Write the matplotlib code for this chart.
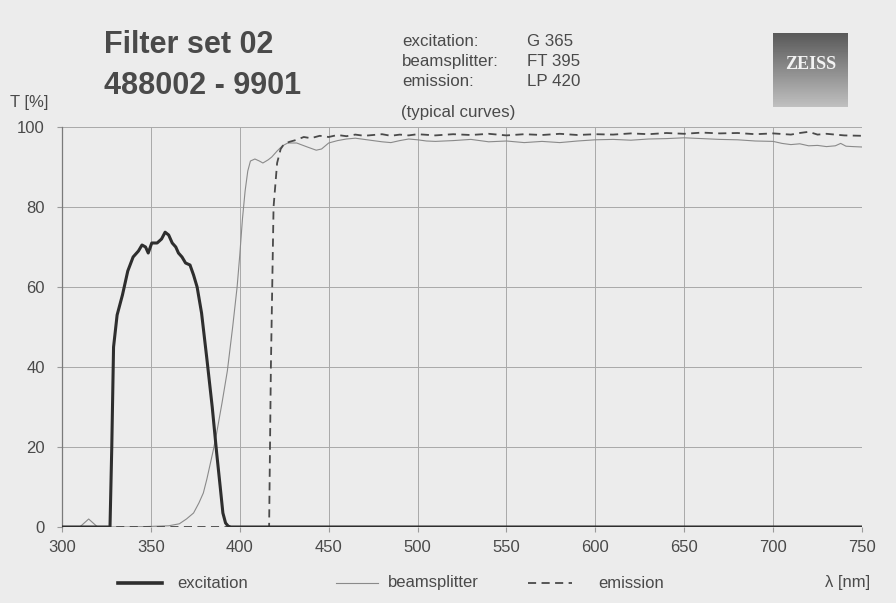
import numpy as np
import matplotlib.pyplot as plt
from matplotlib.lines import Line2D

plt.rcParams['font.family'] = ['Liberation Sans', 'DejaVu Sans']
plt.rcParams['axes.unicode_minus'] = False

# transmission curves (wavelength nm, T %)
exc_nm = [300, 327, 328, 329, 331, 334, 337, 340, 343, 345, 347, 348.5, 350.5,
          353.5, 356, 358, 360, 362, 364, 365.5, 367.5, 369.5, 372, 374, 376,
          378.5, 381.5, 384.5, 387, 389, 390.5, 392, 393.5, 395, 750]
exc_t = [0, 0, 20, 45, 53, 58, 64, 67.5, 69, 70.5, 70, 68.5, 71, 71, 72, 73.7,
         73, 71, 70, 68.5, 67.5, 66, 65.5, 63, 60, 53.5, 42, 30, 18.5, 10, 3.5,
         1, 0.2, 0, 0]

bs_nm = [300, 310, 313, 315, 317, 320, 340, 360, 366, 370, 374, 377, 379.5,
         381.5, 383, 385, 387, 390, 393, 396, 398.5, 400, 401.5, 403, 404.5, 406,
         408.5, 411, 413, 416, 418, 421, 424, 427, 432, 438, 443, 446, 450,
         455, 460, 465, 470, 475, 480, 485, 490, 495, 500, 505, 510, 520, 530,
         540, 550, 560, 570, 580, 590, 600, 610, 620, 630, 640, 650, 660, 670,
         680, 690, 700, 705, 710, 715, 720, 725, 730, 735, 738, 741, 745, 750]
bs_t = [0, 0, 1.2, 2, 1.2, 0, 0, 0.3, 0.8, 2, 3.5, 6, 8.5, 12, 15, 19, 23.5,
        31, 39, 50, 60, 68, 77, 84, 89, 91.5, 92, 91.5, 91, 91.8, 92.5, 94,
        95.3, 96, 96, 95, 94.2, 94.5, 96, 96.6, 97, 97.2, 96.9, 96.6, 96.3,
        96.1, 96.6, 97, 96.8, 96.5, 96.4, 96.6, 96.9, 96.3, 96.5, 96.1, 96.4,
        96.1, 96.5, 96.8, 96.9, 96.7, 97, 97.1, 97.3, 97.1, 96.9, 96.8, 96.5,
        96.4, 95.9, 95.6, 95.8, 95.3, 95.4, 95.1, 95.3, 95.9, 95.2, 95.1, 95]

em_nm = [300, 416.5, 417.5, 419, 421, 423, 425, 428, 432, 436, 440, 445, 450,
         455, 460, 465, 470, 475, 480, 485, 490, 495, 500, 510, 520, 530, 540,
         550, 560, 570, 580, 590, 600, 610, 620, 630, 640, 650, 660, 670, 680,
         690, 700, 710, 715, 720, 725, 730, 740, 750]
em_t = [0, 0, 40, 80, 91, 94.5, 95.8, 96.3, 96.8, 97.5, 97.2, 97.8, 97.5, 98,
        97.7, 98.1, 97.8, 98, 98.2, 97.8, 98.1, 97.9, 98.2, 97.9, 98.2, 98,
        98.3, 97.9, 98.2, 98, 98.3, 98, 98.2, 98.1, 98.4, 98.2, 98.5, 98.3,
        98.6, 98.4, 98.5, 98.2, 98.4, 98.1, 98.5, 98.8, 98.1, 98.3, 97.9, 97.8]

x_ticks = [300, 350, 400, 450, 500, 550, 600, 650, 700, 750]
y_ticks = [0, 20, 40, 60, 80, 100]

paper = '#ececec'
text_c = '#4a4a4a'

fig = plt.figure(figsize=(8.96, 6.03), dpi=100, facecolor=paper)
ax = fig.add_axes([62 / 896, 1 - 527 / 603, 800 / 896, 400 / 603])
ax.set_facecolor(paper)

ax.plot(bs_nm, bs_t, color='#8a8a8a', lw=0.8, zorder=3)
ax.plot(em_nm, em_t, color='#4a4a4a', lw=1.3, dashes=(4.5, 3), zorder=4)
ax.plot(exc_nm, exc_t, color='#2e2e2e', lw=2.2, zorder=5)

ax.set_xlim(300, 750)
ax.set_ylim(0, 100)
ax.set_xticks(x_ticks)
ax.set_yticks(y_ticks)
ax.tick_params(axis='both', colors='#9a9a9a', labelcolor=text_c, labelsize=12,
               length=3.5, width=0.8)
ax.tick_params(axis='x', pad=6)
ax.tick_params(axis='y', pad=9)
ax.grid(True, color='#a8a8a8', lw=0.7)
for side in ['top', 'right', 'bottom']:
    ax.spines[side].set_visible(False)
ax.spines['left'].set_color('#7a7a7a')
ax.spines['left'].set_linewidth(0.9)

# header texts
fig.text(104 / 896, 1 - 45 / 603, 'Filter set 02', fontsize=22, fontweight='bold',
         color=text_c, va='center', ha='left')
fig.text(104 / 896, 1 - 86 / 603, '488002 - 9901', fontsize=22, fontweight='bold',
         color=text_c, va='center', ha='left')
for i, (k, v) in enumerate([('excitation:', 'G 365'),
                             ('beamsplitter:', 'FT 395'),
                             ('emission:', 'LP 420')]):
    y = 1 - (41 + 20.5 * i) / 603
    fig.text(402 / 896, y, k, fontsize=12.2, color=text_c, va='center')
    fig.text(527 / 896, y, v, fontsize=12.2, color=text_c, va='center')
fig.text(401 / 896, 1 - 113 / 603, '(typical curves)', fontsize=12.2,
         color=text_c, va='center')
fig.text(10 / 896, 1 - 102 / 603, 'T [%]', fontsize=12, color=text_c, va='center')

# ZEISS logo block
lax = fig.add_axes([773 / 896, 1 - 107 / 603, 75 / 896, 74 / 603])
grad = np.linspace(0.35, 0.75, 74)[:, None] * np.ones((1, 75))
lax.imshow(grad, cmap='gray', vmin=0, vmax=1, aspect='auto')
lax.text(0.5, 0.58, 'ZEISS', transform=lax.transAxes, ha='center', va='center',
         fontsize=13, fontweight='bold', family='Liberation Serif', color='#f2f2f2')
lax.axis('off')

# legend row
ly = 1 - 583 / 603
fig.add_artist(Line2D([118 / 896, 162 / 896], [ly, ly], color='#2e2e2e', lw=2.6))
fig.text(177 / 896, ly, 'excitation', fontsize=12, color=text_c, va='center')
fig.add_artist(Line2D([336 / 896, 378 / 896], [ly, ly], color='#8a8a8a', lw=0.8))
fig.text(388 / 896, ly, 'beamsplitter', fontsize=12, color=text_c, va='center')
fig.add_artist(Line2D([528 / 896, 572 / 896], [ly, ly], color='#4a4a4a', lw=1.3,
                      dashes=(4.5, 3)))
fig.text(598 / 896, ly, 'emission', fontsize=12, color=text_c, va='center')
fig.text(870 / 896, ly, 'λ [nm]', fontsize=12, color=text_c, va='center', ha='right')

fig.savefig('out.png', dpi=100, facecolor=paper)
